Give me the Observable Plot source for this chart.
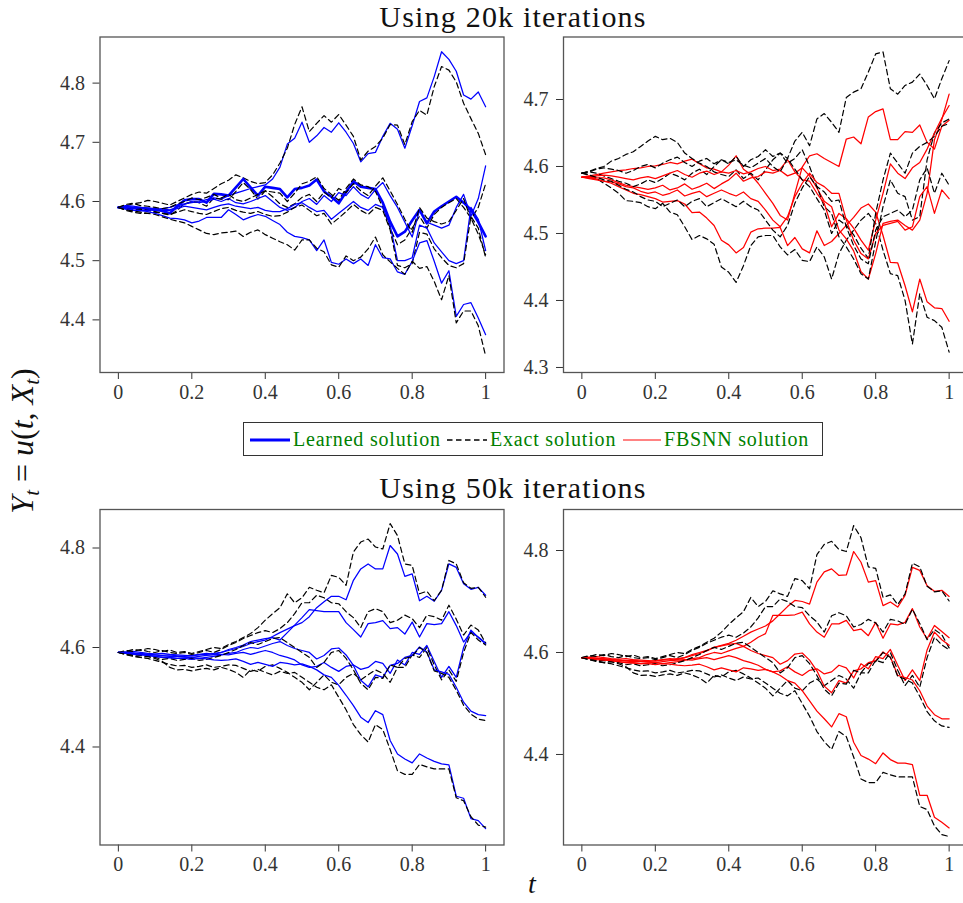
<!DOCTYPE html>
<html><head><meta charset="utf-8">
<script src="https://cdn.jsdelivr.net/npm/d3@7"></script>
<script src="https://cdn.jsdelivr.net/npm/@observablehq/plot@0.6"></script>
<style>
html,body{margin:0;padding:0;background:#fff;overflow:hidden;}
#wrap{position:relative;width:963px;height:903px;overflow:hidden;font-family:"Liberation Serif","DejaVu Serif","Times New Roman",Times,serif;color:#111;}
.title{position:absolute;left:0;width:1026px;text-align:center;font-size:30px;letter-spacing:1.2px;line-height:34px;}
#legend{position:absolute;left:243px;top:422px;width:580px;height:34px;border:1px solid #333;box-sizing:border-box;}
#legend .lt{position:absolute;top:0;line-height:32px;font-size:20px;letter-spacing:0.8px;color:#008000;white-space:nowrap;}
#legend svg{position:absolute;top:14px;}
#ylab{position:absolute;left:27px;top:441px;transform:translate(-50%,-50%) rotate(-90deg);font-size:32px;line-height:36px;white-space:nowrap;}
#ylab sub{font-size:21px;vertical-align:-6px;}
#xlab{position:absolute;left:532px;top:870px;transform:translateX(-50%);font-size:28px;line-height:28px;font-style:italic;}
</style></head><body>
<div id="wrap">
  <div class="title" style="top:0px">Using 20k iterations</div>
  <div class="title" style="top:471px">Using 50k iterations</div>
  <div id="legend">
    <svg style="left:6px" width="42" height="6"><line x1="0" x2="40" y1="3" y2="3" stroke="#0000ff" stroke-width="3"/></svg>
    <span class="lt" style="left:49px">Learned solution</span>
    <svg style="left:203px" width="42" height="6"><line x1="0" x2="40" y1="3" y2="3" stroke="#000" stroke-width="1.3" stroke-dasharray="5.5,3.5"/></svg>
    <span class="lt" style="left:246px">Exact solution</span>
    <svg style="left:379px" width="42" height="6"><line x1="0" x2="38" y1="3" y2="3" stroke="#ff5a5a" stroke-width="1.5"/></svg>
    <span class="lt" style="left:420px">FBSNN solution</span>
  </div>
  <div id="ylab"><i>Y</i><sub><i>t</i></sub> = <i>u</i>(<i>t</i>, <i>X</i><sub><i>t</i></sub>)</div>
  <div id="xlab">t</div>
</div>
<script>
const t = [0,0.02,0.04,0.06,0.08,0.1,0.12,0.14,0.16,0.18,0.2,0.22,0.24,0.26,0.28,0.3,0.32,0.34,0.36,0.38,0.4,0.42,0.44,0.46,0.48,0.5,0.52,0.54,0.56,0.58,0.6,0.62,0.64,0.66,0.68,0.7,0.72,0.74,0.76,0.78,0.8,0.82,0.84,0.86,0.88,0.9,0.92,0.94,0.96,0.98,1];
const xTicks = [0, 0.2, 0.4, 0.6, 0.8, 1];
const xTickLabels = ["0", "0.2", "0.4", "0.6", "0.8", "1"];
const tlTicks = [4.4, 4.5, 4.6, 4.7, 4.8];
const trTicks = [4.3, 4.4, 4.5, 4.6, 4.7];
const bTicks = [4.4, 4.6, 4.8];

// ---- 20k iterations, learned (blue) vs exact ----
const tlLearned1 = [4.590,4.592,4.590,4.588,4.587,4.586,4.588,4.590,4.594,4.596,4.598,4.600,4.603,4.606,4.604,4.610,4.614,4.618,4.622,4.625,4.628,4.638,4.658,4.697,4.707,4.734,4.700,4.711,4.725,4.717,4.733,4.717,4.698,4.667,4.681,4.683,4.710,4.732,4.722,4.690,4.728,4.769,4.775,4.811,4.853,4.840,4.820,4.780,4.773,4.785,4.760];
const tlExact1 = [4.590,4.593,4.596,4.598,4.602,4.600,4.597,4.594,4.600,4.606,4.612,4.616,4.614,4.622,4.630,4.636,4.645,4.640,4.634,4.630,4.632,4.645,4.665,4.690,4.730,4.760,4.718,4.732,4.745,4.734,4.747,4.729,4.710,4.670,4.685,4.693,4.707,4.730,4.729,4.696,4.735,4.754,4.746,4.794,4.828,4.822,4.802,4.766,4.740,4.715,4.679];
const tlLearned2 = [4.590,4.590,4.589,4.589,4.588,4.586,4.584,4.580,4.592,4.602,4.604,4.604,4.598,4.613,4.612,4.610,4.624,4.638,4.624,4.610,4.625,4.623,4.621,4.607,4.621,4.623,4.627,4.637,4.617,4.608,4.597,4.616,4.634,4.625,4.623,4.621,4.598,4.566,4.541,4.549,4.568,4.586,4.563,4.583,4.592,4.600,4.608,4.598,4.586,4.565,4.541];
const tlExact2 = [4.590,4.588,4.586,4.587,4.585,4.583,4.580,4.577,4.585,4.596,4.600,4.598,4.592,4.606,4.604,4.603,4.617,4.632,4.620,4.604,4.618,4.616,4.614,4.600,4.614,4.630,4.634,4.642,4.622,4.612,4.602,4.622,4.638,4.628,4.625,4.617,4.590,4.555,4.527,4.535,4.555,4.575,4.555,4.578,4.590,4.598,4.605,4.590,4.572,4.545,4.510];
const tlLearned3 = [4.590,4.593,4.592,4.590,4.589,4.588,4.587,4.586,4.590,4.595,4.600,4.598,4.600,4.604,4.600,4.605,4.598,4.596,4.600,4.605,4.610,4.600,4.590,4.585,4.590,4.600,4.605,4.595,4.610,4.600,4.615,4.610,4.625,4.612,4.605,4.620,4.632,4.610,4.590,4.565,4.540,4.585,4.565,4.560,4.555,4.560,4.590,4.612,4.575,4.605,4.660];
const tlExact3 = [4.590,4.595,4.597,4.593,4.592,4.590,4.588,4.590,4.596,4.600,4.606,4.603,4.607,4.612,4.606,4.612,4.603,4.600,4.606,4.612,4.618,4.608,4.596,4.590,4.596,4.607,4.612,4.600,4.616,4.606,4.622,4.615,4.630,4.618,4.610,4.626,4.640,4.618,4.595,4.570,4.548,4.590,4.572,4.566,4.562,4.566,4.585,4.605,4.570,4.590,4.630];
const tlLearned4 = [4.590,4.587,4.585,4.584,4.585,4.586,4.585,4.585,4.588,4.592,4.590,4.588,4.586,4.590,4.594,4.596,4.592,4.590,4.588,4.590,4.585,4.583,4.583,4.588,4.595,4.598,4.590,4.583,4.585,4.570,4.580,4.590,4.600,4.590,4.585,4.595,4.590,4.560,4.500,4.500,4.505,4.560,4.555,4.530,4.515,4.500,4.495,4.500,4.590,4.570,4.517];
const tlExact4 = [4.590,4.585,4.582,4.580,4.580,4.582,4.580,4.578,4.582,4.586,4.583,4.580,4.578,4.583,4.588,4.590,4.585,4.582,4.580,4.583,4.578,4.575,4.576,4.582,4.590,4.594,4.585,4.576,4.580,4.562,4.572,4.583,4.595,4.585,4.578,4.590,4.585,4.552,4.492,4.488,4.495,4.548,4.545,4.520,4.505,4.492,4.488,4.495,4.575,4.555,4.505];
const tlLearned5 = [4.590,4.588,4.586,4.585,4.583,4.580,4.576,4.572,4.571,4.569,4.564,4.567,4.573,4.573,4.573,4.586,4.578,4.569,4.574,4.578,4.575,4.568,4.561,4.548,4.541,4.539,4.535,4.517,4.535,4.497,4.494,4.503,4.495,4.503,4.492,4.527,4.505,4.503,4.481,4.477,4.499,4.530,4.534,4.499,4.462,4.483,4.406,4.426,4.429,4.403,4.375];
const tlExact5 = [4.590,4.586,4.584,4.582,4.580,4.578,4.574,4.570,4.567,4.564,4.558,4.552,4.546,4.544,4.547,4.548,4.550,4.541,4.548,4.552,4.544,4.538,4.532,4.527,4.518,4.535,4.535,4.521,4.515,4.493,4.489,4.508,4.500,4.506,4.520,4.540,4.510,4.498,4.487,4.477,4.499,4.487,4.490,4.465,4.434,4.475,4.395,4.415,4.415,4.390,4.339];

// ---- 20k iterations, FBSNN (red) vs exact ----
const trFbsnn1 = [4.584,4.586,4.588,4.590,4.592,4.594,4.595,4.597,4.598,4.600,4.601,4.603,4.606,4.604,4.608,4.611,4.604,4.598,4.596,4.592,4.602,4.616,4.596,4.588,4.575,4.560,4.545,4.527,4.520,4.560,4.599,4.616,4.619,4.612,4.606,4.600,4.641,4.644,4.634,4.674,4.682,4.686,4.640,4.640,4.652,4.651,4.662,4.636,4.626,4.660,4.669];
const trExact1 = [4.590,4.593,4.597,4.600,4.608,4.612,4.618,4.622,4.630,4.638,4.645,4.640,4.642,4.636,4.620,4.612,4.605,4.600,4.592,4.588,4.585,4.595,4.582,4.590,4.580,4.595,4.610,4.620,4.612,4.638,4.651,4.631,4.671,4.679,4.666,4.651,4.703,4.711,4.716,4.741,4.768,4.771,4.716,4.708,4.721,4.726,4.738,4.721,4.701,4.731,4.758];
const trFbsnn2 = [4.584,4.583,4.581,4.578,4.575,4.570,4.565,4.560,4.558,4.555,4.552,4.547,4.548,4.549,4.544,4.531,4.532,4.523,4.512,4.490,4.483,4.471,4.479,4.502,4.507,4.508,4.508,4.509,4.482,4.494,4.477,4.471,4.504,4.482,4.488,4.500,4.512,4.524,4.538,4.544,4.532,4.497,4.457,4.456,4.422,4.383,4.432,4.398,4.389,4.388,4.369];
const trExact2 = [4.590,4.588,4.582,4.575,4.568,4.560,4.549,4.548,4.546,4.540,4.537,4.545,4.532,4.528,4.510,4.491,4.497,4.492,4.484,4.450,4.442,4.427,4.452,4.482,4.495,4.497,4.497,4.480,4.468,4.476,4.460,4.458,4.480,4.465,4.432,4.470,4.490,4.505,4.520,4.530,4.515,4.475,4.440,4.437,4.400,4.335,4.410,4.375,4.370,4.360,4.323];
const trFbsnn3 = [4.584,4.584,4.583,4.583,4.580,4.576,4.572,4.570,4.568,4.566,4.568,4.572,4.565,4.568,4.574,4.566,4.570,4.575,4.567,4.574,4.580,4.590,4.578,4.583,4.585,4.592,4.590,4.594,4.586,4.590,4.598,4.586,4.568,4.548,4.540,4.505,4.492,4.474,4.443,4.432,4.470,4.515,4.518,4.520,4.512,4.505,4.520,4.560,4.640,4.670,4.708];
const trExact3 = [4.590,4.592,4.590,4.586,4.582,4.578,4.575,4.570,4.574,4.580,4.576,4.582,4.590,4.586,4.580,4.590,4.596,4.588,4.600,4.610,4.604,4.615,4.600,4.610,4.615,4.625,4.615,4.620,4.605,4.612,4.625,4.600,4.570,4.540,4.530,4.495,4.480,4.462,4.440,4.432,4.488,4.540,4.580,4.560,4.555,4.520,4.525,4.610,4.650,4.665,4.671];
const trFbsnn4 = [4.584,4.585,4.586,4.587,4.586,4.584,4.582,4.580,4.583,4.585,4.582,4.586,4.590,4.594,4.588,4.584,4.590,4.593,4.588,4.592,4.590,4.594,4.589,4.592,4.597,4.600,4.594,4.596,4.610,4.592,4.580,4.578,4.560,4.545,4.510,4.530,4.522,4.508,4.490,4.475,4.520,4.560,4.604,4.590,4.582,4.598,4.606,4.626,4.650,4.672,4.691];
const trExact4 = [4.590,4.592,4.596,4.598,4.596,4.594,4.590,4.594,4.600,4.603,4.598,4.605,4.610,4.614,4.606,4.600,4.608,4.612,4.604,4.610,4.606,4.610,4.602,4.598,4.605,4.612,4.600,4.592,4.612,4.596,4.580,4.570,4.552,4.535,4.500,4.520,4.512,4.498,4.478,4.463,4.530,4.580,4.620,4.605,4.590,4.620,4.630,4.636,4.645,4.660,4.664];
const trFbsnn5 = [4.584,4.582,4.580,4.578,4.577,4.574,4.570,4.568,4.563,4.560,4.562,4.557,4.560,4.565,4.556,4.560,4.563,4.555,4.560,4.565,4.560,4.556,4.562,4.552,4.548,4.535,4.520,4.510,4.525,4.555,4.575,4.590,4.576,4.570,4.560,4.560,4.520,4.490,4.470,4.462,4.500,4.512,4.515,4.518,4.505,4.510,4.555,4.570,4.530,4.565,4.552];
const trExact5 = [4.590,4.587,4.584,4.580,4.578,4.572,4.566,4.562,4.555,4.550,4.548,4.540,4.545,4.550,4.540,4.548,4.552,4.540,4.546,4.552,4.546,4.540,4.548,4.540,4.535,4.520,4.505,4.495,4.512,4.545,4.568,4.585,4.570,4.562,4.548,4.550,4.510,4.482,4.462,4.455,4.505,4.525,4.530,4.535,4.525,4.535,4.580,4.598,4.560,4.590,4.572];

// ---- 50k iterations: exact paths (same in both lower panels) ----
const exact50k1 = [4.590,4.592,4.596,4.594,4.598,4.596,4.592,4.595,4.590,4.592,4.588,4.592,4.596,4.600,4.598,4.606,4.612,4.620,4.628,4.640,4.655,4.668,4.680,4.708,4.690,4.700,4.721,4.715,4.710,4.745,4.741,4.725,4.792,4.812,4.818,4.802,4.798,4.849,4.825,4.768,4.765,4.708,4.713,4.694,4.715,4.775,4.768,4.730,4.719,4.721,4.701];
const exact50k2 = [4.590,4.594,4.592,4.596,4.592,4.590,4.594,4.590,4.588,4.590,4.586,4.590,4.594,4.590,4.596,4.604,4.610,4.618,4.624,4.630,4.634,4.630,4.638,4.650,4.668,4.690,4.690,4.705,4.700,4.690,4.688,4.672,4.660,4.640,4.672,4.678,4.672,4.650,4.655,4.665,4.658,4.640,4.665,4.662,4.655,4.685,4.657,4.625,4.645,4.635,4.609];
const exact50k3 = [4.590,4.588,4.585,4.584,4.582,4.578,4.572,4.560,4.555,4.556,4.553,4.556,4.558,4.555,4.560,4.556,4.550,4.540,4.555,4.552,4.562,4.565,4.558,4.550,4.540,4.530,4.515,4.530,4.545,4.530,4.525,4.540,4.548,4.535,4.545,4.555,4.548,4.530,4.560,4.560,4.585,4.580,4.600,4.565,4.535,4.555,4.532,4.590,4.630,4.615,4.605];
const exact50k4 = [4.590,4.586,4.582,4.580,4.582,4.580,4.576,4.578,4.574,4.576,4.578,4.574,4.576,4.580,4.584,4.590,4.596,4.604,4.610,4.606,4.612,4.618,4.620,4.610,4.600,4.590,4.580,4.560,4.570,4.590,4.594,4.578,4.555,4.528,4.515,4.540,4.538,4.565,4.560,4.578,4.582,4.600,4.590,4.553,4.548,4.540,4.514,4.484,4.466,4.456,4.453];
const exact50k5 = [4.590,4.586,4.584,4.580,4.578,4.574,4.570,4.566,4.563,4.564,4.560,4.562,4.565,4.560,4.562,4.565,4.564,4.558,4.552,4.556,4.550,4.545,4.552,4.548,4.550,4.540,4.530,4.520,4.515,4.525,4.500,4.475,4.445,4.425,4.410,4.445,4.435,4.395,4.352,4.345,4.345,4.365,4.360,4.356,4.356,4.356,4.298,4.292,4.260,4.243,4.239];

// ---- 50k iterations, learned (blue) ----
const blLearned1 = [4.590,4.591,4.592,4.590,4.588,4.587,4.588,4.586,4.585,4.584,4.583,4.585,4.586,4.588,4.590,4.594,4.598,4.602,4.608,4.612,4.615,4.622,4.630,4.637,4.644,4.650,4.662,4.680,4.692,4.703,4.703,4.696,4.735,4.758,4.768,4.758,4.758,4.805,4.788,4.743,4.748,4.694,4.703,4.693,4.715,4.768,4.761,4.728,4.717,4.721,4.705];
const blLearned2 = [4.590,4.589,4.588,4.588,4.586,4.585,4.584,4.585,4.583,4.582,4.584,4.586,4.588,4.586,4.590,4.596,4.600,4.605,4.612,4.615,4.618,4.620,4.615,4.630,4.645,4.660,4.676,4.674,4.672,4.672,4.672,4.650,4.636,4.621,4.648,4.650,4.654,4.638,4.640,4.627,4.651,4.621,4.648,4.646,4.648,4.672,4.644,4.611,4.631,4.621,4.609];
const blLearned3 = [4.590,4.590,4.589,4.587,4.586,4.585,4.583,4.582,4.582,4.581,4.580,4.582,4.584,4.585,4.586,4.585,4.588,4.590,4.586,4.590,4.594,4.590,4.584,4.580,4.575,4.565,4.560,4.562,4.570,4.560,4.552,4.562,4.565,4.556,4.560,4.572,4.568,4.548,4.575,4.565,4.590,4.586,4.604,4.572,4.540,4.562,4.540,4.600,4.635,4.620,4.607];
const blLearned4 = [4.590,4.588,4.586,4.585,4.584,4.582,4.580,4.580,4.578,4.579,4.580,4.578,4.580,4.582,4.585,4.588,4.590,4.596,4.600,4.598,4.603,4.608,4.612,4.604,4.598,4.594,4.590,4.577,4.584,4.597,4.599,4.585,4.564,4.534,4.521,4.545,4.540,4.564,4.568,4.580,4.584,4.601,4.591,4.555,4.551,4.546,4.520,4.490,4.472,4.465,4.463];
const blLearned5 = [4.590,4.589,4.588,4.586,4.584,4.582,4.580,4.579,4.578,4.578,4.576,4.578,4.577,4.575,4.574,4.575,4.577,4.572,4.566,4.570,4.566,4.562,4.570,4.568,4.565,4.567,4.562,4.555,4.545,4.540,4.524,4.504,4.483,4.460,4.449,4.473,4.465,4.413,4.386,4.376,4.368,4.386,4.378,4.371,4.366,4.364,4.301,4.297,4.256,4.252,4.236];

// ---- 50k iterations, FBSNN (red) ----
const brFbsnn1 = [4.590,4.591,4.592,4.590,4.588,4.587,4.588,4.586,4.585,4.584,4.583,4.585,4.586,4.588,4.590,4.594,4.598,4.603,4.610,4.614,4.618,4.624,4.632,4.640,4.646,4.652,4.662,4.676,4.690,4.702,4.700,4.695,4.738,4.758,4.764,4.751,4.752,4.798,4.777,4.738,4.741,4.692,4.699,4.689,4.712,4.767,4.761,4.731,4.720,4.722,4.710];
const brFbsnn2 = [4.590,4.589,4.588,4.588,4.586,4.585,4.584,4.585,4.583,4.582,4.584,4.586,4.588,4.586,4.590,4.596,4.600,4.604,4.610,4.613,4.616,4.618,4.612,4.620,4.630,4.637,4.673,4.673,4.673,4.674,4.679,4.656,4.640,4.630,4.656,4.656,4.663,4.643,4.646,4.633,4.659,4.628,4.656,4.654,4.659,4.686,4.650,4.627,4.653,4.641,4.629];
const brFbsnn3 = [4.590,4.590,4.589,4.587,4.586,4.585,4.583,4.582,4.582,4.581,4.580,4.582,4.584,4.585,4.586,4.585,4.588,4.590,4.586,4.590,4.594,4.590,4.584,4.580,4.575,4.567,4.562,4.564,4.572,4.562,4.555,4.565,4.568,4.558,4.562,4.575,4.570,4.550,4.578,4.568,4.592,4.588,4.606,4.575,4.545,4.566,4.545,4.605,4.640,4.625,4.614];
const brFbsnn4 = [4.590,4.588,4.586,4.585,4.584,4.582,4.580,4.580,4.578,4.579,4.580,4.578,4.580,4.582,4.585,4.588,4.590,4.596,4.600,4.598,4.603,4.608,4.612,4.604,4.598,4.594,4.590,4.577,4.584,4.597,4.599,4.585,4.564,4.534,4.521,4.545,4.540,4.564,4.568,4.580,4.584,4.601,4.591,4.555,4.551,4.546,4.525,4.495,4.478,4.470,4.470];
const brFbsnn5 = [4.590,4.589,4.588,4.586,4.584,4.582,4.580,4.579,4.578,4.578,4.576,4.578,4.577,4.575,4.574,4.575,4.577,4.572,4.566,4.570,4.566,4.562,4.570,4.568,4.565,4.567,4.562,4.555,4.545,4.540,4.525,4.505,4.485,4.470,4.454,4.480,4.474,4.424,4.398,4.391,4.382,4.403,4.390,4.383,4.383,4.380,4.320,4.320,4.277,4.267,4.256];

const wrap = document.getElementById("wrap");
const rows = vals => vals.map((v, i) => ({t: t[i], v}));
const FONT = "'Liberation Serif', 'DejaVu Serif', 'Times New Roman', Times, serif";

function panel({left, top, width, height, mL, mR, mT, mB, yDomain, yTicks, pairs, color, thick}) {
  const marks = [
    Plot.axisX({ticks: xTicks, tickFormat: d => xTickLabels[xTicks.indexOf(d)], tickSize: 7, tickPadding: 5, label: null, fontSize: 20, fontFamily: FONT}),
    Plot.axisY({ticks: yTicks, tickFormat: d => d.toFixed(1), tickSize: 7, tickPadding: 8, label: null, fontSize: 20, fontFamily: FONT})
  ];
  pairs.forEach(([c, e], k) => {
    marks.push(Plot.line(rows(c), {x: "t", y: "v", stroke: color, strokeWidth: k === thick ? 2.6 : 1.25}));
    marks.push(Plot.line(rows(e), {x: "t", y: "v", stroke: "#000", strokeWidth: 1.2, strokeDasharray: "5.5,3.5"}));
  });
  marks.push(Plot.frame({stroke: "#555", strokeWidth: 1.3}));
  const svg = Plot.plot({
    width, height, marginLeft: mL, marginRight: mR, marginTop: mT, marginBottom: mB,
    x: {domain: [-0.05, 1.05]},
    y: {domain: yDomain},
    style: {fontFamily: FONT, fontSize: "20px", color: "#333", background: "transparent", overflow: "visible"},
    marks
  });
  svg.style.position = "absolute";
  svg.style.left = left + "px";
  svg.style.top = top + "px";
  svg.style.fontFamily = FONT;
  wrap.appendChild(svg);
}

panel({left: 40, top: 30, width: 470, height: 380, mL: 59.5, mR: 6.5, mT: 6.5, mB: 38,
  yDomain: [4.3111, 4.8779], yTicks: tlTicks, color: "#0000ff", thick: 1,
  pairs: [[tlLearned1, tlExact1], [tlLearned2, tlExact2], [tlLearned3, tlExact3], [tlLearned4, tlExact4], [tlLearned5, tlExact5]]});
panel({left: 503, top: 30, width: 470, height: 380, mL: 60, mR: 6, mT: 6.5, mB: 38,
  yDomain: [4.2925, 4.7933], yTicks: trTicks, color: "#ff0000", thick: -1,
  pairs: [[trFbsnn1, trExact1], [trFbsnn2, trExact2], [trFbsnn3, trExact3], [trFbsnn4, trExact4], [trFbsnn5, trExact5]]});
panel({left: 40, top: 500, width: 470, height: 385, mL: 59.5, mR: 6.5, mT: 9, mB: 40.5,
  yDomain: [4.2030, 4.8774], yTicks: bTicks, color: "#0000ff", thick: -1,
  pairs: [[blLearned1, exact50k1], [blLearned2, exact50k2], [blLearned3, exact50k3], [blLearned4, exact50k4], [blLearned5, exact50k5]]});
panel({left: 503, top: 500, width: 470, height: 385, mL: 60, mR: 6, mT: 9, mB: 40.5,
  yDomain: [4.2225, 4.8804], yTicks: bTicks, color: "#ff0000", thick: -1,
  pairs: [[brFbsnn1, exact50k1], [brFbsnn2, exact50k2], [brFbsnn3, exact50k3], [brFbsnn4, exact50k4], [brFbsnn5, exact50k5]]});
</script>
</body></html>
